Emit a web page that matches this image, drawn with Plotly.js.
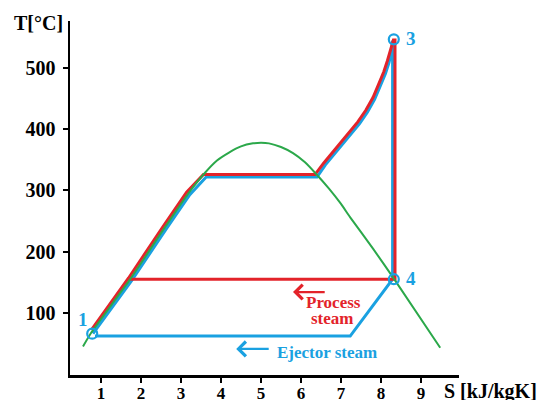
<!DOCTYPE html>
<html>
<head>
<meta charset="utf-8">
<script src="https://cdn.plot.ly/plotly-3.0.1.min.js"></script>
<style>html,body{margin:0;padding:0;background:#fff;}#chart{width:549px;height:400px;}</style>
</head>
<body>
<div id="chart"></div>
<script>
// Saturation dome (green)
var domeS = [0.55, 0.75, 1.73, 2.6, 3.18, 3.6, 3.9, 4.2, 4.5, 4.8, 5.0, 5.2, 5.5, 5.8, 6.1, 6.35, 6.7, 7.0, 7.23, 7.8, 8.33, 9.48];
var domeT = [45, 67, 155, 240, 295, 329, 349, 362, 372, 377, 378, 377, 371, 361, 346, 329, 303, 278, 256, 205, 155, 43];

// Process steam cycle (red)
var redS = [0.76, 1.69, 2.56, 3.14, 3.56, 6.35, 6.57, 6.77, 6.97, 7.2, 7.42, 7.62, 7.8, 7.95, 8.07, 8.16, 8.24, 8.31, 8.35, 8.35, 1.72];
var redT = [72, 157, 242, 297, 326, 326, 345, 361, 377, 394, 412, 431, 452, 475, 494, 512, 529, 546, 546, 155, 155];

// Ejector steam cycle (blue)
var blueS = [0.8, 1.77, 2.64, 3.22, 3.63, 6.4, 6.61, 6.81, 7.01, 7.24, 7.46, 7.66, 7.84, 7.99, 8.11, 8.2, 8.26, 8.29, 8.29, 7.23, 0.85];
var blueT = [66, 153, 238, 293, 322, 322, 342, 358, 374, 391, 409, 428, 449, 472, 491, 509, 526, 545, 155, 62, 62];

// State points
var pointS = [0.78, 8.32, 8.32];
var pointT = [66, 547, 155];
var pointLabels = ['1', '3', '4'];
var labelS = [0.56, 8.75, 8.75];
var labelT = [89, 548, 156];

// Ticks
var xTicks = [1, 2, 3, 4, 5, 6, 7, 8, 9];
var yTicks = [100, 200, 300, 400, 500];

var BLUE = '#1AA1E1', RED = '#E3232A', GREEN = '#2BA84A';
var SERIF = 'Liberation Serif, Times New Roman, serif';

var traces = [
  {x: blueS, y: blueT, mode: 'lines', line: {color: BLUE, width: 3}, hoverinfo: 'skip'},
  {x: redS, y: redT, mode: 'lines', line: {color: RED, width: 3}, hoverinfo: 'skip'},
  {x: domeS, y: domeT, mode: 'lines', line: {color: GREEN, width: 2, shape: 'spline', smoothing: 0.5}, hoverinfo: 'skip'},
  {x: pointS, y: pointT, mode: 'markers', marker: {symbol: 'circle-open', size: 10, color: BLUE, line: {width: 2.2, color: BLUE}}, hoverinfo: 'skip'}
];

var annotations = [];
for (var i = 0; i < pointLabels.length; i++) {
  annotations.push({x: labelS[i], y: labelT[i], xref: 'x', yref: 'y', text: pointLabels[i], showarrow: false,
    xanchor: 'center', yanchor: 'middle',
    font: {family: SERIF, size: 19, color: BLUE, weight: 'bold'}});
}
annotations.push({x: 6.81, y: 117, xref: 'x', yref: 'y', text: 'Process', showarrow: false,
  xanchor: 'center', yanchor: 'middle', font: {family: SERIF, size: 17, color: RED, weight: 'bold'}});
annotations.push({x: 6.77, y: 91, xref: 'x', yref: 'y', text: 'steam', showarrow: false,
  xanchor: 'center', yanchor: 'middle', font: {family: SERIF, size: 17, color: RED, weight: 'bold'}});
annotations.push({x: 6.66, y: 35, xref: 'x', yref: 'y', text: 'Ejector steam', showarrow: false,
  xanchor: 'center', yanchor: 'middle', font: {family: SERIF, size: 17, color: BLUE, weight: 'bold'}});
annotations.push({x: 5.8, y: 134, ax: 6.63, ay: 134, xref: 'x', yref: 'y', axref: 'x', ayref: 'y', text: '',
  showarrow: true, arrowhead: 4, arrowsize: 1.3, arrowwidth: 2.2, arrowcolor: RED, standoff: 0});
annotations.push({x: 4.38, y: 41, ax: 5.23, ay: 41, xref: 'x', yref: 'y', axref: 'x', ayref: 'y', text: '',
  showarrow: true, arrowhead: 4, arrowsize: 1.3, arrowwidth: 2.2, arrowcolor: BLUE, standoff: 0});
annotations.push({x: -0.082, y: 0.995, xref: 'paper', yref: 'paper', text: 'T[°C]', showarrow: false,
  xanchor: 'center', yanchor: 'middle', font: {family: SERIF, size: 20, color: '#000', weight: 'bold'}});
annotations.push({x: 1.08, y: -0.048, xref: 'paper', yref: 'paper', text: 'S [kJ/kgK]', showarrow: false,
  xanchor: 'center', yanchor: 'middle', font: {family: SERIF, size: 20, color: '#000', weight: 'bold'}});

var layout = {
  width: 549, height: 400,
  margin: {l: 70, r: 90, t: 21, b: 25, pad: 0},
  paper_bgcolor: '#fff', plot_bgcolor: '#fff',
  showlegend: false,
  xaxis: {range: [0.225, 9.95], tickvals: xTicks, ticktext: xTicks.map(String), showgrid: false, zeroline: false,
    showline: true, linecolor: '#000', linewidth: 2.5, ticks: 'outside', ticklen: 5, tickwidth: 2, tickcolor: '#000',
    ticklabelstandoff: -4,
    tickfont: {family: SERIF, size: 17, color: '#000', weight: 'bold'}, fixedrange: true},
  yaxis: {range: [-1.6, 577], tickvals: yTicks, ticktext: yTicks.map(String), showgrid: false, zeroline: false,
    showline: true, linecolor: '#000', linewidth: 2.5, ticks: 'outside', ticklen: 5, tickwidth: 2, tickcolor: '#000',
    ticklabelstandoff: 3,
    tickfont: {family: SERIF, size: 20, color: '#000', weight: 'bold'}, fixedrange: true},
  annotations: annotations
};

Plotly.newPlot('chart', traces, layout, {displayModeBar: false, staticPlot: true});
</script>
</body>
</html>
